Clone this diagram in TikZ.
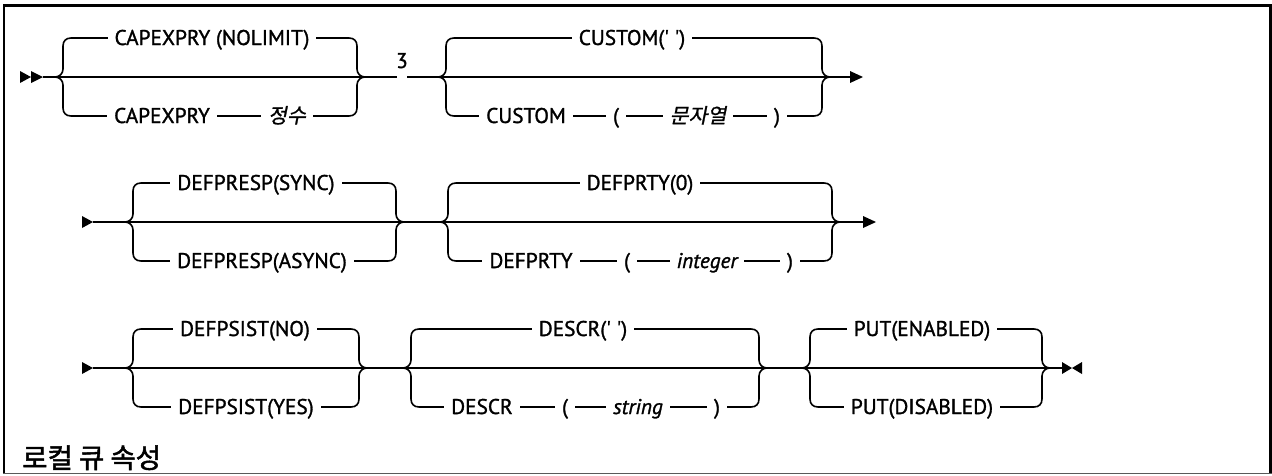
\documentclass[tikz,border=0pt]{standalone}
\usepackage{fontspec}
\setmainfont{PT Sans}[FakeBold=1.3]
\newfontfamily\krit{Noto Sans CJK KR}[FakeSlant=0.2,FakeBold=1]
\newfontfamily\krbf{Noto Sans CJK KR}[FakeBold=1.8]
\tikzset{
  ln/.style={line width=1.6pt},
  lbl/.style={fill=white, inner xsep=7pt, inner ysep=1pt, anchor=base, font=\fontsize{21.3}{23}\selectfont},
  lbli/.style={lbl, font=\fontsize{21.3}{23}\selectfont\itshape},
  kri/.style={lbl, font=\krit\fontsize{20.5}{22}\selectfont},
  tip/.style={fill=black, draw=none},
}
\newcommand\grp[4]{%
  \coordinate (#1-l) at ({#2-8},#4);
  \coordinate (#1-r) at ({#3+8},#4);
  \coordinate (#1-tl) at ({#2+8},{#4-39});
  \coordinate (#1-bl) at ({#2+8},{#4+39});
  \coordinate (#1-tr) at ({#3-8},{#4-39});
  \coordinate (#1-br) at ({#3-8},{#4+39});
  \draw[ln] (#1-tl) .. controls +(-5,0) and +(0,-5) .. ({#2},{#4-31}) -- ({#2},{#4-8})
     .. controls +(0,5) and +(4,0) .. (#1-l) .. controls +(4,0) and +(0,-5) .. ({#2},{#4+8})
     -- ({#2},{#4+31}) .. controls +(0,5) and +(-5,0) .. (#1-bl);
  \draw[ln] (#1-tr) .. controls +(5,0) and +(0,-5) .. ({#3},{#4-31}) -- ({#3},{#4-8})
     .. controls +(0,5) and +(-4,0) .. (#1-r) .. controls +(-4,0) and +(0,-5) .. ({#3},{#4+8})
     -- ({#3},{#4+31}) .. controls +(0,5) and +(5,0) .. (#1-br);
  \draw[ln] (#1-l) -- (#1-r);
  \draw[ln] (#1-tl) -- (#1-tr);
  \draw[ln] (#1-bl) -- (#1-br);
}
\begin{document}
\begin{tikzpicture}[x=1pt,y=-1pt]
\useasboundingbox (0,0) rectangle (1272,475);
% frame
\draw[line width=2.2pt] (4,473) -- (4,5.5) -- (1270.5,5.5) -- (1270.5,473);
\draw[line width=1.6pt, black!65] (3,473.5) -- (1271.5,473.5);

% ---------- row 1 ----------
\grp{A}{63}{357}{77}
\grp{B}{446}{822}{77}
\coordinate (s1) at (43,77);
\fill[tip] (20,71) -- (31,77) -- (20,83) -- cycle;
\fill[tip] (31,71) -- (43,77) -- (31,83) -- cycle;
\draw[ln] (s1) -- (A-l);
\coordinate (g1) at (397,77);
\coordinate (g2) at (407,77);
\draw[ln] (A-r) -- (g1);
\draw[ln] (g2) -- (B-l);
\coordinate (e1) at (850,77);
\draw[ln] (B-r) -- (e1);
\fill[tip] (850,71) -- (863,77) -- (850,83) -- cycle;

\node[lbl] (a1) at (212,45) {CAPEXPRY (NOLIMIT)};
\node[lbl] (a2) at (162,123) {CAPEXPRY};
\node[kri] (a3) at (287,123) {정수};
\node[lbl, fill=none] (n3) at (402,68) {3};
\node[lbl] (b1) at (632,45) {CUSTOM(\textquotesingle\ \textquotesingle)};
\node[lbl] (b2) at (526,123) {CUSTOM};
\node[lbl] (b3) at (616,123) {(};
\node[kri] (b4) at (698,123) {문자열};
\node[lbl] (b5) at (777,123) {)};

% ---------- row 2 ----------
\grp{C}{133}{396}{222}
\grp{D}{448}{832}{222}
\coordinate (s2) at (93,222);
\fill[tip] (82,216) -- (93,222) -- (82,228) -- cycle;
\draw[ln] (s2) -- (C-l);
\draw[ln] (C-r) -- (D-l);
\coordinate (e2) at (863,222);
\draw[ln] (D-r) -- (e2);
\fill[tip] (863,216) -- (876,222) -- (863,228) -- cycle;

\node[lbl] (c1) at (256,190) {DEFPRESP(SYNC)};
\node[lbl] (c2) at (262,268) {DEFPRESP(ASYNC)};
\node[lbl] (d1) at (640,190) {DEFPRTY(0)};
\node[lbl] (d2) at (531,268) {DEFPRTY};
\node[lbl] (d3) at (627,268) {(};
\node[lbli] (d4) at (707,268) {integer};
\node[lbl] (d5) at (790,268) {)};

% ---------- row 3 ----------
\grp{E}{133}{359}{368}
\grp{F}{411}{759}{368}
\grp{G}{810}{1042}{368}
\coordinate (s3) at (93,368);
\fill[tip] (82,362) -- (93,368) -- (82,374) -- cycle;
\draw[ln] (s3) -- (E-l);
\draw[ln] (E-r) -- (F-l);
\draw[ln] (F-r) -- (G-l);
\coordinate (e3) at (1062,368);
\draw[ln] (G-r) -- (e3);
\fill[tip] (1062,362) -- (1072,368) -- (1062,374) -- cycle;
\fill[tip] (1082,362) -- (1072,368) -- (1082,374) -- cycle;

\node[lbl] (e1t) at (245,336) {DEFPSIST(NO)};
\node[lbl] (e2t) at (246,414) {DEFPSIST(YES)};
\node[lbl] (f1) at (583,336) {DESCR(\textquotesingle\ \textquotesingle)};
\node[lbl] (f2) at (482,414) {DESCR};
\node[lbl] (f3) at (565,414) {(};
\node[lbli] (f4) at (638,414) {string};
\node[lbl] (f5) at (717,414) {)};
\node[lbl] (g1t) at (922,336) {PUT(ENABLED)};
\node[lbl] (g2t) at (922,414) {PUT(DISABLED)};

% title
\node[anchor=base west, inner sep=0pt, font=\krbf\fontsize{27.5}{29}\selectfont] (title) at (22,468) {로컬 큐 속성};
\end{tikzpicture}
\end{document}
